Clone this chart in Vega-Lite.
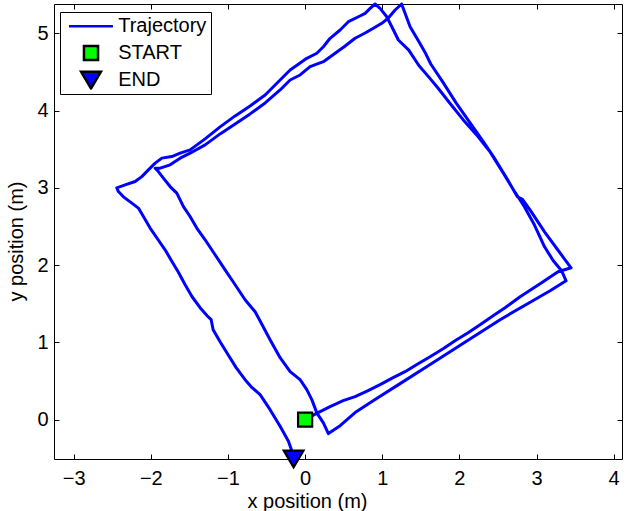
{
"$schema": "https://vega.github.io/schema/vega-lite/v6.json",
"width": 568, "height": 455,
"autosize": {"type": "none"},
"padding": {"left": 54, "top": 4, "right": 4, "bottom": 52},
"background": "white",
"config": {
 "view": {"stroke": "black", "strokeWidth": 1},
 "axis": {"domain": false, "grid": false, "tickColor": "black", "tickSize": -5, "tickWidth": 1, "labelFont": "Liberation Sans", "labelFontSize": 20, "labelColor": "black", "titleFont": "Liberation Sans", "titleFontSize": 20, "titleFontWeight": "normal", "titleColor": "black"},
 "legend": {"fillColor": "white", "strokeColor": "black", "padding": 4.3, "labelFont": "Liberation Sans", "labelFontSize": 20, "labelColor": "black", "labelOffset": 3.7, "symbolOffset": 3.2, "clipHeight": 20, "rowPadding": 6.7, "symbolSize": 1936, "symbolOpacity": 1, "symbolStrokeWidth": 2.5}
},
"datasets": {
 "path": [
  {"x":0,"y":0},{"x":0.143,"y":0.078},{"x":0.324,"y":0.168},{"x":0.493,"y":0.246},{"x":0.648,"y":0.298},{"x":0.817,"y":0.375},{"x":0.972,"y":0.453},{"x":1.141,"y":0.543},{"x":1.296,"y":0.621},{"x":1.465,"y":0.724},{"x":1.62,"y":0.815},{"x":1.789,"y":0.918},{"x":1.944,"y":1.022},{"x":2.113,"y":1.125},{"x":2.268,"y":1.229},{"x":2.437,"y":1.345},{"x":2.592,"y":1.449},{"x":2.787,"y":1.591},{"x":3.046,"y":1.759},{"x":3.279,"y":1.915},{"x":3.448,"y":1.966},
  {"x":3.409,"y":2.018},{"x":3.279,"y":2.193},{"x":3.104,"y":2.432},{"x":2.929,"y":2.697},{"x":2.818,"y":2.851},{"x":2.752,"y":2.885},{"x":2.618,"y":3.118},{"x":2.443,"y":3.402},{"x":2.312,"y":3.596},{"x":2.139,"y":3.842},{"x":1.957,"y":4.101},{"x":1.784,"y":4.373},{"x":1.629,"y":4.605},{"x":1.563,"y":4.74},{"x":1.478,"y":4.89},{"x":1.361,"y":5.088},{"x":1.296,"y":5.261},{"x":1.251,"y":5.382},
  {"x":1.167,"y":5.304},{"x":1.076,"y":5.197},{"x":0.994,"y":5.132},{"x":0.885,"y":5.067},{"x":0.778,"y":5.006},{"x":0.648,"y":4.938},{"x":0.506,"y":4.829},{"x":0.376,"y":4.735},{"x":0.237,"y":4.635},{"x":0.065,"y":4.571},{"x":-0.065,"y":4.463},{"x":-0.194,"y":4.398},{"x":-0.324,"y":4.269},{"x":-0.518,"y":4.101},{"x":-0.713,"y":3.959},{"x":-0.907,"y":3.829},{"x":-1.102,"y":3.7},{"x":-1.296,"y":3.558},{"x":-1.491,"y":3.45},{"x":-1.62,"y":3.386},{"x":-1.75,"y":3.299},{"x":-1.879,"y":3.256},{"x":-1.944,"y":3.256},
  {"x":-1.902,"y":3.212},{"x":-1.837,"y":3.127},{"x":-1.75,"y":3.018},{"x":-1.663,"y":2.933},{"x":-1.577,"y":2.759},{"x":-1.491,"y":2.63},{"x":-1.404,"y":2.48},{"x":-1.296,"y":2.329},{"x":-1.167,"y":2.135},{"x":-1.037,"y":1.94},{"x":-0.907,"y":1.746},{"x":-0.778,"y":1.552},{"x":-0.648,"y":1.397},{"x":-0.557,"y":1.229},{"x":-0.454,"y":1.035},{"x":-0.324,"y":0.802},{"x":-0.194,"y":0.621},{"x":-0.065,"y":0.517},{"x":0.022,"y":0.388},{"x":0.087,"y":0.259},{"x":0.152,"y":0.087},{"x":0.237,"y":-0.043},{"x":0.302,"y":-0.181},
  {"x":0.454,"y":-0.078},{"x":0.648,"y":0.091},{"x":0.907,"y":0.259},{"x":1.231,"y":0.466},{"x":1.555,"y":0.673},{"x":1.879,"y":0.88},{"x":2.203,"y":1.087},{"x":2.528,"y":1.294},{"x":2.929,"y":1.527},{"x":3.176,"y":1.669},{"x":3.383,"y":1.798},
  {"x":3.325,"y":1.928},{"x":3.215,"y":2.061},{"x":3.104,"y":2.238},{"x":2.972,"y":2.523},{"x":2.839,"y":2.763},{"x":2.709,"y":2.963},{"x":2.576,"y":3.182},{"x":2.398,"y":3.467},{"x":2.312,"y":3.576},{"x":2.224,"y":3.687},{"x":2.048,"y":3.884},{"x":1.872,"y":4.104},{"x":1.717,"y":4.301},{"x":1.607,"y":4.432},{"x":1.475,"y":4.586},{"x":1.344,"y":4.784},{"x":1.209,"y":4.916},{"x":1.145,"y":5.045},{"x":1.059,"y":5.217},{"x":0.972,"y":5.326},{"x":0.907,"y":5.382},
  {"x":0.843,"y":5.326},{"x":0.778,"y":5.261},{"x":0.691,"y":5.217},{"x":0.561,"y":5.153},{"x":0.454,"y":5.045},{"x":0.324,"y":4.938},{"x":0.237,"y":4.829},{"x":0.152,"y":4.744},{"x":0.022,"y":4.679},{"x":-0.065,"y":4.618},{"x":-0.194,"y":4.528},{"x":-0.324,"y":4.398},{"x":-0.518,"y":4.204},{"x":-0.713,"y":4.062},{"x":-0.907,"y":3.933},{"x":-1.102,"y":3.791},{"x":-1.296,"y":3.635},{"x":-1.491,"y":3.493},{"x":-1.62,"y":3.45},{"x":-1.728,"y":3.406},{"x":-1.857,"y":3.386},{"x":-1.944,"y":3.321},{"x":-2.031,"y":3.234},{"x":-2.117,"y":3.147},{"x":-2.203,"y":3.083},{"x":-2.333,"y":3.04},{"x":-2.441,"y":3.001},
  {"x":-2.42,"y":2.953},{"x":-2.355,"y":2.885},{"x":-2.246,"y":2.803},{"x":-2.161,"y":2.739},{"x":-2.096,"y":2.63},{"x":-2.009,"y":2.48},{"x":-1.905,"y":2.329},{"x":-1.815,"y":2.199},{"x":-1.724,"y":2.044},{"x":-1.646,"y":1.915},{"x":-1.555,"y":1.746},{"x":-1.465,"y":1.591},{"x":-1.361,"y":1.449},{"x":-1.27,"y":1.345},{"x":-1.218,"y":1.294},{"x":-1.192,"y":1.164},{"x":-1.102,"y":1.009},{"x":-0.998,"y":0.841},{"x":-0.894,"y":0.673},{"x":-0.778,"y":0.517},{"x":-0.687,"y":0.414},{"x":-0.583,"y":0.323},{"x":-0.454,"y":0.129},{"x":-0.324,"y":-0.087},{"x":-0.216,"y":-0.281},{"x":-0.156,"y":-0.453},{"x":-0.149,"y":-0.505}
 ],
 "markers": [
  {"label": "START", "x": 0, "y": 0},
  {"label": "END", "x": -0.149, "y": -0.505}
 ]
},
"layer": [
 {
  "data": {"name": "path"},
  "mark": {"type": "line", "color": "#0000ff", "strokeWidth": 3, "strokeJoin": "round"},
  "encoding": {
   "x": {"field": "x", "type": "quantitative", "scale": {"domain": [-3.255, 4.108], "nice": false, "zero": false}, "axis": {"values": [-3,-2,-1,0,1,2,3,4], "title": "x position (m)", "labelPadding": 14, "titlePadding": 3, "titleX": 253}},
   "y": {"field": "y", "type": "quantitative", "scale": {"domain": [-0.51, 5.382], "nice": false, "zero": false}, "axis": {"values": [0,1,2,3,4,5], "title": "y position (m)", "labelPadding": 11, "titlePadding": 10, "titleY": 237}},
   "order": {"value": null}
  }
 },
 {
  "data": {"name": "markers"},
  "mark": {"type": "point", "filled": true, "size": 1936, "strokeWidth": 2.2, "opacity": 1, "clip": false},
  "encoding": {
   "x": {"field": "x", "type": "quantitative", "axis": {"orient": "top", "values": [-3,-2,-1,0,1,2,3,4], "labels": false, "title": null}},
   "y": {"field": "y", "type": "quantitative", "axis": {"orient": "right", "values": [0,1,2,3,4,5], "labels": false, "title": null}},
   "shape": {"field": "label", "type": "nominal", "scale": {"domain": ["Trajectory", "START", "END"], "range": ["M-1,0L1,0", "M-0.32,-0.32L0.32,-0.32L0.32,0.32L-0.32,0.32Z", "M-0.45,-0.36L0.45,-0.36L0,0.4Z"]}, "legend": {"title": null, "orient": "none", "legendX": 6, "legendY": 8}},
   "fill": {"field": "label", "type": "nominal", "scale": {"domain": ["Trajectory", "START", "END"], "range": ["#ffffff", "#00ff00", "#0000ff"]}, "legend": {"title": null, "orient": "none", "legendX": 6, "legendY": 8}},
   "stroke": {"field": "label", "type": "nominal", "scale": {"domain": ["Trajectory", "START", "END"], "range": ["#0000ff", "#000000", "#000000"]}, "legend": {"title": null, "orient": "none", "legendX": 6, "legendY": 8}}
  }
 }
],
"resolve": {"axis": {"x": "independent", "y": "independent"}}
}
